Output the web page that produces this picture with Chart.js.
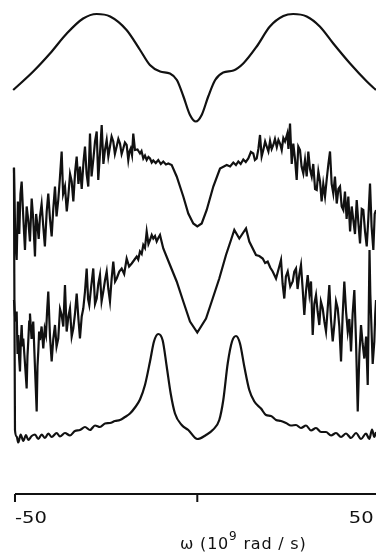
<!DOCTYPE html>
<html>
<head>
<meta charset="utf-8">
<script src="https://cdn.jsdelivr.net/npm/chart.js@4/dist/chart.umd.min.js"></script>
<style>
  html, body { margin:0; padding:0; background:#fff; }
  #wrap { width:376px; height:552px; }
</style>
</head>
<body>
<div id="wrap"><canvas id="spectra" width="376" height="552"></canvas></div>
<script>
// frequency axis, 10^9 rad/s
const tickValues = [-50, 0, 50];
const tickLabels = ['-50', '', '50'];

// trace 1 (top, smooth)
const omega1 = [-50.5,-45.0,-40.4,-35.8,-31.3,-27.6,-23.9,-19.4,-15.7,-13.0,-10.2,-7.5,-5.6,-3.8,-2.0,-0.4,
  1.2,3.0,4.9,7.1,9.9,12.6,16.3,19.9,23.6,26.3,30.0,33.6,37.3,41.9,46.5,49.0];
const level1 = [80.8,84.5,88.1,92.1,95.1,96.0,95.5,92.8,88.8,85.8,84.5,84.1,82.8,79.5,75.8,74.5,
  75.8,79.5,82.8,84.3,84.7,86.1,89.5,93.5,95.6,96.0,95.5,93.5,90.1,86.1,82.5,80.8];

// trace 2 (noisy, upper)
const omega2 = [-50.28,-49.9,-49.54,-49.2,-48.83,-48.5,-48.17,-47.7,-47.26,-46.8,-46.36,-45.9,-45.42,-45.0,-44.52,
  -44.2,-43.89,-43.5,-43.15,-42.7,-42.24,-41.8,-41.3,-40.87,-40.4,-39.94,-39.5,-39.03,-38.6,-38.13,-37.7,-37.2,
  -36.8,-36.29,-35.8,-35.38,-34.9,-34.45,-34.0,-33.5,-33.08,-32.6,-32.18,-31.7,-31.2,-30.8,-30.35,-29.9,-29.43,
  -29.0,-28.53,-28.05,-27.59,-27.16,-26.7,-26.22,-25.75,-25.32,-24.85,-24.4,-23.95,-23.5,-23.04,-22.6,-22.11,
  -21.65,-21.2,-20.75,-20.3,-19.85,-19.37,-18.93,-18.6,-18.27,-17.9,-17.56,-17.09,-16.4,-15.72,-15.3,-14.81,
  -14.35,-13.88,-13.4,-12.97,-12.5,-12.07,-11.4,-10.7,-10.0,-9.33,-8.6,-7.95,-7.02,-5.65,-3.84,-2.47,-1.1,0,
  1.21,2.58,4.39,6.23,8.07,9.0,9.88,10.6,11.25,11.9,12.62,13.3,13.99,14.7,15.36,15.8,16.29,16.75,17.2,17.65,
  18.1,18.6,19.04,19.5,19.95,20.4,20.85,21.3,21.8,22.25,22.69,23.15,23.6,24.06,24.69,25.0,25.43,25.9,26.33,
  26.8,27.26,27.7,28.17,28.6,29.08,29.54,30.0,30.45,30.9,31.38,31.8,32.3,32.75,33.2,33.66,34.1,34.55,35.03,
  35.5,35.95,36.4,36.85,37.3,37.75,38.24,38.7,39.14,39.6,40.05,40.5,40.95,41.42,41.9,42.35,42.79,43.25,43.72,
  44.2,44.63,45.1,45.53,46.0,46.47,46.9,47.37,47.8,48.28,48.65,49.02];
const level2 = [65.3,50.0,46.8,58.5,52.0,60.0,62.5,55.0,48.8,57.5,54.8,50.5,59.1,55.0,47.5,
  56.0,54.1,51.0,55.5,58.0,53.5,49.5,56.5,60.1,55.0,51.5,57.0,61.5,55.5,58.8,63.0,68.5,
  60.0,61.5,56.5,59.5,64.0,62.5,58.5,64.5,67.5,62.0,65.5,61.0,66.5,69.5,64.0,61.5,72.1,
  63.5,66.8,70.5,72.5,62.8,68.0,73.8,66.0,68.8,70.8,67.5,69.5,71.5,70.5,68.0,69.5,
  71.0,70.1,68.0,69.1,70.3,69.8,66.8,68.5,69.1,67.8,72.1,68.8,68.9,68.1,68.6,67.1,
  67.7,66.8,67.4,67.1,66.3,66.7,66.2,66.8,66.0,66.5,65.9,66.1,65.8,63.5,59.5,56.1,54.1,53.5,
  54.1,56.8,61.5,65.1,65.8,65.5,66.3,65.8,66.5,66.0,66.9,66.4,67.1,68.4,68.1,66.8,67.1,69.0,71.8,67.5,
  68.8,70.5,69.5,68.5,70.6,69.0,69.8,71.0,69.4,70.8,70.1,68.8,71.2,70.5,72.1,69.0,74.1,66.0,70.1,
  67.0,62.8,69.5,68.8,65.5,64.1,66.8,63.5,68.5,65.0,63.5,66.0,61.0,60.8,64.5,62.5,58.5,62.0,59.5,
  63.0,66.0,68.5,62.0,60.1,63.5,58.1,61.0,61.5,57.5,56.8,60.5,55.0,59.5,52.5,57.5,54.8,52.0,58.8,
  54.0,50.1,57.0,56.8,52.5,49.5,55.0,62.1,53.5,48.8,56.0,56.8];

// trace 3 (noisy, lower)
const omega3 = [-50.28,-49.9,-49.54,-49.3,-49.1,-48.85,-48.63,-48.4,-48.17,-47.95,-47.73,-47.25,-46.8,-46.58,
  -46.36,-46.1,-45.89,-45.45,-44.99,-44.5,-44.05,-43.83,-43.61,-43.38,-43.15,-42.7,-42.24,-41.85,-41.5,-41.2,
  -40.87,-40.4,-39.94,-39.5,-39.03,-38.6,-38.13,-37.65,-37.2,-36.75,-36.29,-35.83,-35.35,-34.92,-34.45,-34.01,
  -33.55,-33.08,-32.6,-32.18,-31.7,-31.27,-30.8,-30.34,-29.95,-29.62,-29.1,-28.53,-28.05,-27.59,-27.15,-26.69,
  -26.25,-25.78,-25.3,-24.85,-24.4,-23.95,-23.5,-23.04,-22.55,-22.11,-21.4,-20.74,-20.05,-19.37,-18.7,-17.99,
  -17.3,-16.62,-16.2,-15.72,-15.25,-14.81,-14.35,-13.88,-13.4,-12.97,-12.5,-12.07,-11.6,-11.14,-10.7,-10.23,
  -9.8,-9.33,-7.49,-5.65,-3.84,-2.0,0,2.39,4.22,6.03,7.87,9.24,10.15,11.52,13.36,14.26,16.1,17.0,17.94,18.6,
  19.31,20.0,20.68,21.59,22.3,22.96,23.4,23.86,24.3,24.8,25.5,26.17,26.6,27.07,27.5,28.0,28.44,28.9,29.35,
  29.8,30.28,30.75,31.19,31.65,32.1,32.56,33.0,33.46,33.9,34.4,34.85,35.3,35.75,36.21,36.65,37.14,37.6,38.05,
  38.51,38.95,39.42,39.85,40.32,40.8,41.26,41.7,42.16,42.6,43.07,43.55,44.0,44.45,44.9,45.35,45.81,46.3,46.74,
  47.0,47.23,47.45,47.65,48.1,48.55,48.8,49.02];
const level3 = [38.8,34.5,36.5,28.0,31.8,27.0,24.5,30.5,33.8,29.5,31.1,26.0,21.1,27.5,
  30.5,34.5,36.1,31.0,34.5,25.0,16.5,25.5,28.5,32.5,30.8,33.5,29.1,33.0,31.8,36.5,
  40.5,31.5,26.5,31.0,33.8,29.5,31.1,37.0,35.8,33.5,41.8,32.5,35.5,37.1,31.5,33.1,
  36.0,40.1,35.0,31.1,35.5,37.1,40.5,45.1,39.0,37.8,41.5,45.1,38.0,39.1,42.0,43.8,
  38.5,40.5,42.8,44.5,41.0,38.5,43.0,46.5,42.5,43.1,44.5,45.1,44.0,47.1,45.5,46.1,
  46.8,47.5,46.9,48.5,48.0,49.8,49.2,52.5,50.0,50.8,51.8,51.1,51.6,50.5,51.2,51.8,
  50.5,49.1,45.8,42.5,38.5,34.5,32.3,35.1,39.1,43.1,47.8,50.8,52.8,51.1,53.1,50.5,47.8,47.6,47.1,46.2,
  46.5,45.3,44.5,43.1,45.0,46.8,42.0,39.1,43.5,44.5,41.5,42.5,44.5,45.1,41.0,44.0,45.8,41.0,35.8,
  40.5,43.8,40.0,42.5,31.8,38.0,39.8,36.5,33.8,38.5,37.1,34.5,32.5,37.0,41.8,35.0,30.5,34.0,38.5,
  37.1,33.5,26.5,35.5,42.5,36.5,32.5,35.0,28.5,36.0,40.8,30.0,16.5,28.0,33.8,30.0,27.1,31.5,21.8,
  35.0,48.8,40.0,35.8,26.0,30.5,36.0,38.8];

// trace 4 (bottom, two peaks)
const omega4 = [-50.28,-50.0,-49.54,-49.10,-48.44,-47.73,-46.99,-46.36,-45.42,-44.52,-43.61,-42.68,-41.78,-40.87,
  -39.94,-38.57,-37.66,-36.29,-34.92,-33.55,-32.18,-30.80,-29.43,-28.06,-26.69,-25.32,-23.95,-22.58,-21.20,-19.83,
  -18.46,-17.09,-15.72,-14.35,-12.97,-11.88,-10.70,-9.49,-8.39,-7.30,-6.12,-4.28,-2.47,0,2.39,4.22,6.03,7.13,8.34,
  9.52,10.62,11.71,12.89,14.26,15.64,17.47,18.84,20.21,21.59,22.96,24.33,25.70,27.07,28.44,29.82,31.19,32.56,
  33.93,35.30,36.67,38.05,39.42,40.79,42.16,43.53,44.90,46.27,47.18,47.92,48.55,49.02];
const level4 = [65.2,12.8,11.5,10.3,11.9,10.6,11.8,10.8,11.6,11.9,11.0,11.9,11.2,12.1,
  11.4,12.2,11.5,12.2,11.7,12.6,12.8,13.4,12.8,13.7,13.4,14.1,14.2,14.6,14.8,15.4,
  16.1,17.3,18.9,21.8,26.5,30.5,32.0,30.7,25.5,20.1,16.1,13.8,12.8,11.0,11.8,12.8,14.8,18.8,26.1,
  30.5,31.6,30.1,25.5,20.8,18.5,17.1,15.8,15.6,14.8,14.6,14.2,13.7,13.8,13.2,13.7,12.7,13.2,
  12.4,12.4,11.7,12.2,11.4,12.1,11.2,12.2,11.0,12.1,11.0,12.9,11.4,12.4];

const pts = (xs, ys) => xs.map((x, i) => ({x: x, y: ys[i]}));

const axisPlugin = {
  id: 'omegaAxis',
  afterDraw(chart) {
    const ctx = chart.ctx, xs = chart.scales.x, area = chart.chartArea;
    const y0 = area.bottom;
    ctx.save();
    ctx.strokeStyle = '#111';
    ctx.lineWidth = 2;
    ctx.beginPath();
    ctx.moveTo(xs.getPixelForValue(-50), y0);
    ctx.lineTo(area.right, y0);
    tickValues.forEach(v => {
      const px = xs.getPixelForValue(v);
      ctx.moveTo(px, y0);
      ctx.lineTo(px, y0 + 8);
    });
    ctx.stroke();

    ctx.fillStyle = '#111';
    ctx.font = '16px "DejaVu Sans"';
    ctx.textBaseline = 'alphabetic';
    tickValues.forEach((v, i) => {
      if (!tickLabels[i]) return;
      const px = xs.getPixelForValue(v);
      const w = ctx.measureText(tickLabels[i]).width * 1.22;
      const left = i === 0 ? px : px - w - 6;
      ctx.save();
      ctx.translate(left, y0 + 29);
      ctx.scale(1.22, 1);
      ctx.fillText(tickLabels[i], 0, 0);
      ctx.restore();
    });

    // axis title with superscript
    let x = 180, base = y0 + 55;
    ctx.letterSpacing = '0.8px';
    ctx.font = '16px "DejaVu Sans"';
    ctx.fillText('ω (10', x, base);
    x += ctx.measureText('ω (10').width;
    ctx.font = '12px "DejaVu Sans"';
    ctx.fillText('9', x, base - 9);
    x += ctx.measureText('9').width;
    ctx.font = '16px "DejaVu Sans"';
    ctx.fillText(' rad / s)', x, base);
    ctx.restore();
  }
};

const lineStyle = {borderColor:'#111', borderWidth:2.2, pointRadius:0, fill:false};

new Chart(document.getElementById('spectra'), {
  type: 'line',
  data: {
    datasets: [
      Object.assign({data: pts(omega1, level1), cubicInterpolationMode:'monotone'}, lineStyle),
      Object.assign({data: pts(omega2, level2), tension:0}, lineStyle),
      Object.assign({data: pts(omega3, level3), tension:0}, lineStyle),
      Object.assign({data: pts(omega4, level4), cubicInterpolationMode:'monotone'}, lineStyle)
    ]
  },
  options: {
    responsive: false,
    animation: false,
    layout: {padding: {left:0, right:0, top:0, bottom:58}},
    plugins: {legend:{display:false}, tooltip:{enabled:false}},
    scales: {
      x: {type:'linear', min:-54.11, max:49.01, display:false},
      y: {min:0, max:98.8, display:false}
    }
  },
  plugins: [axisPlugin]
});
</script>
</body>
</html>
